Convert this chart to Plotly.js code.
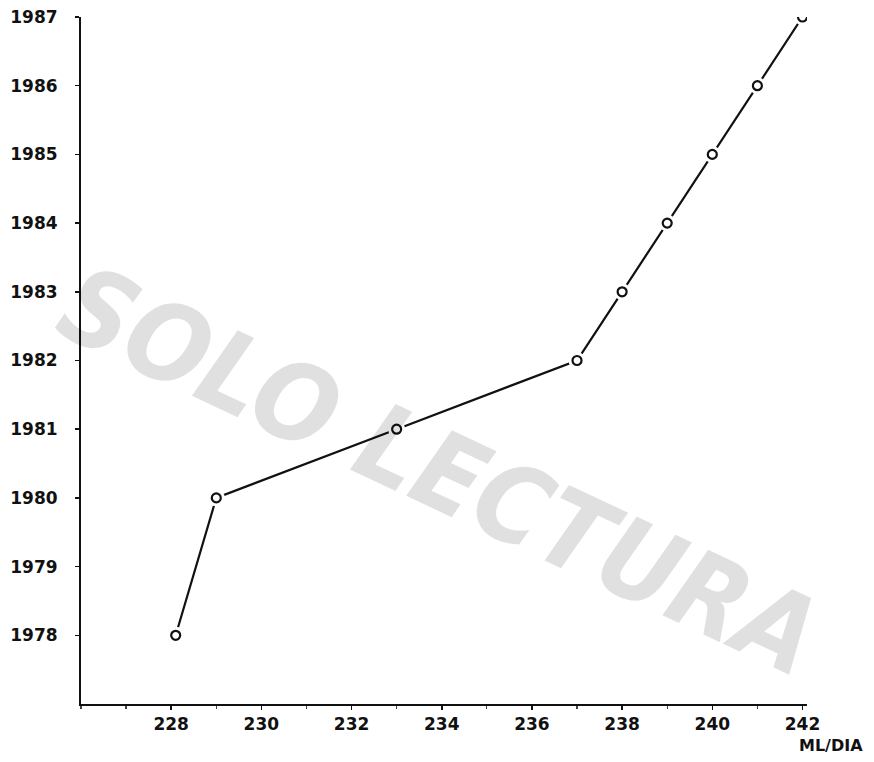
<!DOCTYPE html>
<html>
<head>
<meta charset="utf-8">
<script src="https://cdn.plot.ly/plotly-3.0.1.min.js"></script>
<style>
html,body{margin:0;padding:0;background:#fff;}
#chart{width:874px;height:762px;}
</style>
</head>
<body>
<div id="chart"></div>
<script>
// Data
const consumo = [228.1, 229, 233, 237, 238, 239, 240, 241, 242];   // ML/DIA
const anios   = [1978, 1980, 1981, 1982, 1983, 1984, 1985, 1986, 1987];
const xTicks  = [228, 230, 232, 234, 236, 238, 240, 242];
const yTicks  = [1978, 1979, 1980, 1981, 1982, 1983, 1984, 1985, 1986, 1987];

const tickFont = {family: 'DejaVu Sans, Liberation Sans, sans-serif', size: 17, color: '#111', weight: 'bold'};

const traces = [
  {x: consumo, y: anios, mode: 'lines', line: {color: '#111', width: 2.2}, hoverinfo: 'skip', showlegend: false},
  {x: consumo, y: anios, mode: 'markers', marker: {symbol: 'circle', size: 17, color: '#fff', line: {width: 0}}, hoverinfo: 'skip', showlegend: false},
  {x: consumo, y: anios, mode: 'markers', marker: {symbol: 'circle', size: 9, color: '#fff', line: {color: '#111', width: 2.2}}, showlegend: false}
];

const layout = {
  width: 874, height: 762,
  margin: {l: 81, r: 67, t: 17, b: 58},
  paper_bgcolor: '#fff', plot_bgcolor: '#fff',
  showlegend: false,
  xaxis: {
    range: [226, 242.1], tickvals: xTicks, ticktext: xTicks.map(String),
    showgrid: false, zeroline: false, showline: true, linecolor: '#111', linewidth: 2,
    ticks: 'outside', ticklen: 4, tickwidth: 1.5, tickcolor: '#111',
    minor: {dtick: 1, tick0: 227, ticks: 'outside', ticklen: 3, tickwidth: 1.2, tickcolor: '#444', showgrid: false},
    tickfont: tickFont, ticklabelstandoff: 0
  },
  yaxis: {
    range: [1977, 1987], tickvals: yTicks, ticktext: yTicks.map(String),
    showgrid: false, zeroline: false, showline: true, linecolor: '#111', linewidth: 2,
    ticks: 'outside', ticklen: 4, tickwidth: 1.5, tickcolor: '#111',
    tickfont: tickFont, ticklabelstandoff: 14
  },
  annotations: [
    {text: 'ML/DIA', xref: 'paper', yref: 'paper', x: 1.08, y: -0.06, xanchor: 'right', yanchor: 'middle',
     showarrow: false, font: {family: 'DejaVu Sans, sans-serif', size: 16, color: '#111', weight: 'bold'}},
    {text: 'SOLO LECTURA', xref: 'paper', yref: 'paper', x: 0.495, y: 0.34, xanchor: 'center', yanchor: 'middle',
     showarrow: false, textangle: 25,
     font: {family: 'DejaVu Sans Condensed, Liberation Sans Narrow, DejaVu Sans, sans-serif', size: 108, color: 'rgba(0,0,0,0.12)', weight: 'bold', style: 'italic'}}
  ]
};

Plotly.newPlot('chart', traces, layout, {staticPlot: true, displayModeBar: false});
</script>
</body>
</html>
